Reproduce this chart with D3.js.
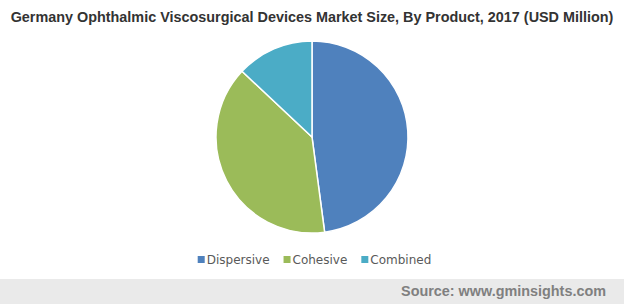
<!DOCTYPE html>
<html>
<head>
<meta charset="utf-8">
<script src="https://cdn.jsdelivr.net/npm/d3@7"></script>
<style>
  body { margin: 0; background: #fff; }
  svg { display: block; }
</style>
</head>
<body>
<div id="chart"></div>
<script>
// data (share of market, %)
var categories = ["Dispersive", "Cohesive", "Combined"];
var values = [47.9, 39.1, 13.0];
var colors = ["#4F81BD", "#9BBB59", "#4BACC6"];

var svg_width = 624, svg_height = 304;

var svg = d3.select("#chart").append("svg")
    .attr("width", svg_width)
    .attr("height", svg_height);

// title
svg.append("text")
    .attr("x", 312)
    .attr("y", 22)
    .attr("text-anchor", "middle")
    .attr("font-family", "Arial, 'Liberation Sans', sans-serif")
    .attr("font-size", "14.4px")
    .attr("font-weight", "bold")
    .style("fill", "#333333")
    .text("Germany Ophthalmic Viscosurgical Devices Market Size, By Product, 2017 (USD Million)");

// pie
var cx = 312, cy = 137, radius = 96;
var pie = d3.pie().sort(null).value(function(d) { return d; });
var arc = d3.arc().innerRadius(0).outerRadius(radius);

var g = svg.append("g")
    .attr("transform", "translate(" + cx + "," + cy + ")");

g.selectAll("path")
    .data(pie(values))
    .enter().append("path")
    .attr("d", arc)
    .style("fill", function(d, i) { return colors[i]; })
    .style("stroke", "#ffffff")
    .style("stroke-width", 1.5);

// legend
var legend = svg.append("g").attr("class", "legend");
var items = legend.selectAll("g")
    .data(categories)
    .enter().append("g");

items.append("rect")
    .attr("width", 7)
    .attr("height", 7)
    .attr("y", 256)
    .style("fill", function(d, i) { return colors[i]; });

items.append("text")
    .attr("x", 9)
    .attr("y", 264)
    .attr("font-family", "'DejaVu Sans', sans-serif")
    .attr("font-size", "12px")
    .style("fill", "#595959")
    .text(function(d) { return d; });

// lay the items out in a row centred under the pie
var gap = 14;
var widths = [];
items.each(function() { widths.push(this.getBBox().width); });
var total = d3.sum(widths) + gap * (widths.length - 1);
var xpos = 314.5 - total / 2;
items.attr("transform", function(d, i) {
    var t = "translate(" + xpos + ",0)";
    xpos += widths[i] + gap;
    return t;
});

// source band
svg.append("rect")
    .attr("x", 0)
    .attr("y", 279)
    .attr("width", svg_width)
    .attr("height", 25)
    .style("fill", "#eaeaea");

svg.append("text")
    .attr("x", 606)
    .attr("y", 296)
    .attr("text-anchor", "end")
    .attr("font-family", "Arial, 'Liberation Sans', sans-serif")
    .attr("font-size", "14.4px")
    .attr("font-weight", "bold")
    .style("fill", "#808080")
    .text("Source: www.gminsights.com");
</script>
</body>
</html>
